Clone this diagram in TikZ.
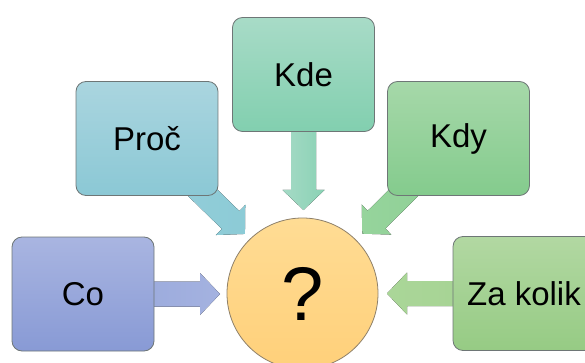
\documentclass[tikz,border=0pt]{standalone}
\usepackage{fontspec}
\setmainfont{Liberation Sans}
\usetikzlibrary{calc}
\pgfdeclarelayer{background}
\pgfsetlayers{background,main}

\definecolor{boxline}{HTML}{6E7676}
\definecolor{ringline}{HTML}{8E806A}
\definecolor{hubtop}{HTML}{FFDC94}
\definecolor{hubbot}{HTML}{FFD07A}

\tikzset{
  qbox/.style={draw=boxline, line width=0.8pt, rounded corners=10pt,
    minimum width=142pt, minimum height=114pt, inner sep=0pt,
    font=\fontsize{33}{38}\selectfont, text=black},
  hub/.style={circle, draw=ringline, line width=0.8pt, minimum size=151pt,
    inner sep=0pt, top color=hubtop, bottom color=hubbot,
    font=\fontsize{76}{84}\selectfont},
}

% block arrow from #1 to #2 (tip), filled with style #3
\newcommand\blockarrow[3]{%
  \path let \p1=(#1), \p2=(#2),
      \n1={atan2(\y2-\y1,\x2-\x1)}, \n2={veclen(\x2-\x1,\y2-\y1)} in
    \pgfextra{\xdef\arrang{\n1}\xdef\arrlen{\n2}};
  \begin{scope}[shift={(#1)}, rotate=\arrang, x=1pt, y=1pt]
    \fill[#3] (0,-12.5) -- (\arrlen-20,-12.5) -- (\arrlen-20,-21) -- (\arrlen,0)
      -- (\arrlen-20,21) -- (\arrlen-20,12.5) -- (0,12.5) -- cycle;
  \end{scope}}

\begin{document}
\begin{tikzpicture}[x=1pt, y=-1pt]
  \useasboundingbox (0,0) rectangle (585,363);
  \clip (0,0) rectangle (585,363);

  % question nodes
  \node[qbox, top color={rgb,255:red,169;green,181;blue,225}, bottom color={rgb,255:red,136;green,154;blue,213}] (co) at (83,294) {Co};
  \node[qbox, top color={rgb,255:red,170;green,213;blue,223}, bottom color={rgb,255:red,139;green,200;blue,213}] (proc) at (147,138.5) {Proč};
  \node[qbox, top color={rgb,255:red,168;green,219;blue,199}, bottom color={rgb,255:red,130;green,207;blue,175}] (kde) at (303.5,74.5) {Kde};
  \node[qbox, top color={rgb,255:red,166;green,216;blue,169}, bottom color={rgb,255:red,132;green,203;blue,141}] (kdy) at (458.5,138.5) {Kdy};
  \node[qbox, top color={rgb,255:red,178;green,216;blue,162}, bottom color={rgb,255:red,150;green,203;blue,132}] (zakolik) at (524,293.5) {Za kolik};

  % centre
  \node[hub] (q) at (302.5,293.5) {?};

  % arrow tips just outside the circle
  \coordinate (tco) at (220,294);
  \coordinate (tproc) at (245,234);
  \coordinate (tkde) at (303.5,210);
  \coordinate (tkdy) at (362,234);
  \coordinate (tzk) at (387,293.5);

  \begin{pgfonlayer}{background}
    \blockarrow{co}{tco}{left color={rgb,255:red,150;green,166;blue,218}, right color={rgb,255:red,164;green,178;blue,224}}
    \blockarrow{proc}{tproc}{left color={rgb,255:red,150;green,206;blue,218}, right color={rgb,255:red,140;green,203;blue,214}}
    \blockarrow{kde}{tkde}{left color={rgb,255:red,165;green,218;blue,198}, right color={rgb,255:red,138;green,210;blue,180}}
    \blockarrow{kdy}{tkdy}{left color={rgb,255:red,150;green,212;blue,156}, right color={rgb,255:red,140;green,206;blue,148}}
    \blockarrow{zakolik}{tzk}{left color={rgb,255:red,170;green,214;blue,152}, right color={rgb,255:red,164;green,210;blue,146}}
  \end{pgfonlayer}
\end{tikzpicture}
\end{document}
